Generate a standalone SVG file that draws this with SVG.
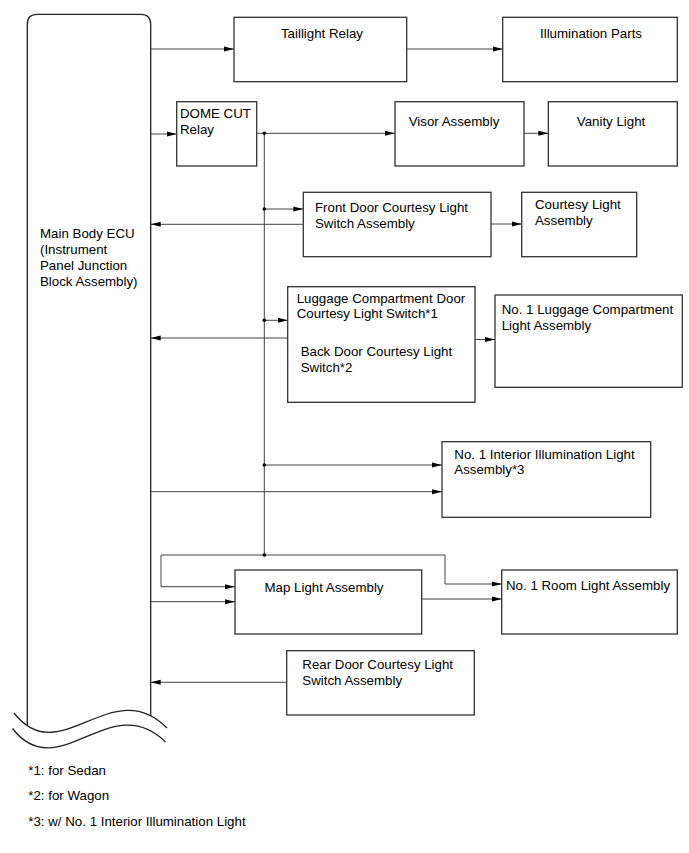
<svg xmlns="http://www.w3.org/2000/svg" width="689" height="853" viewBox="0 0 689 853">
<defs>
<marker id="ah" markerUnits="userSpaceOnUse" markerWidth="11" markerHeight="7" refX="10" refY="3.5" orient="auto">
<path d="M0,1 L10,3.5 L0,6 Z" fill="#000"/>
</marker>
<style>
.box{fill:#fff;stroke:#333;stroke-width:1.3}
.t{font-family:"Liberation Sans",Arial,sans-serif;font-size:13.3px;fill:#000}
.m{text-anchor:middle}
.c{fill:none;stroke:#444;stroke-width:1}
.a{marker-end:url(#ah)}
.dot{fill:#000}
.ecu{fill:none;stroke:#222;stroke-width:1.3}
</style>
</defs>
<rect width="689" height="853" fill="#fff"/>

<g id="ecu">
<path class="ecu" d="M27.3,725 V24.3 Q27.3,14.3 37.3,14.3 H140.7 Q150.7,14.3 150.7,24.3 V716"/>
<path class="ecu" d="M14,713 C60,772 112,672 167,728" stroke-width="1.1"/>
<path class="ecu" d="M12.5,728.5 C58.5,787.5 110.5,687.5 165.5,742" stroke-width="1.1"/>
<text class="t" x="40" y="238">Main Body ECU</text>
<text class="t" x="40" y="254">(Instrument</text>
<text class="t" x="40" y="270">Panel Junction</text>
<text class="t" x="40" y="286">Block Assembly)</text>
</g>

<g id="taillight-relay">
<rect class="box" x="234" y="17.3" width="172.7" height="64.4"/>
<text class="t m" x="322" y="38">Taillight Relay</text>
</g>
<g id="illumination-parts">
<rect class="box" x="502.7" y="17.3" width="174.6" height="64.4"/>
<text class="t m" x="591" y="38">Illumination Parts</text>
</g>
<g id="dome-cut-relay">
<rect class="box" x="176.7" y="101.7" width="80" height="64.3"/>
<text class="t" x="180" y="118">DOME CUT</text>
<text class="t" x="180" y="133.5">Relay</text>
</g>
<g id="visor-assembly">
<rect class="box" x="395" y="101.7" width="129" height="64.3"/>
<text class="t m" x="454" y="125.7">Visor Assembly</text>
</g>
<g id="vanity-light">
<rect class="box" x="548.3" y="101.7" width="129" height="64.3"/>
<text class="t m" x="611" y="125.7">Vanity Light</text>
</g>
<g id="front-door-switch">
<rect class="box" x="303.3" y="192.3" width="187.7" height="64.4"/>
<text class="t" x="315" y="212">Front Door Courtesy Light</text>
<text class="t" x="315" y="228">Switch Assembly</text>
</g>
<g id="courtesy-light">
<rect class="box" x="521.7" y="192.3" width="115" height="64.4"/>
<text class="t" x="535" y="209">Courtesy Light</text>
<text class="t" x="535" y="225">Assembly</text>
</g>
<g id="luggage-switch">
<rect class="box" x="287.7" y="286.7" width="187.3" height="115.6"/>
<text class="t" x="296.7" y="302.7">Luggage Compartment Door</text>
<text class="t" x="296.7" y="318.3">Courtesy Light Switch*1</text>
<text class="t" x="300.7" y="356">Back Door Courtesy Light</text>
<text class="t" x="300.7" y="371.7">Switch*2</text>
</g>
<g id="luggage-light">
<rect class="box" x="495" y="295" width="187.3" height="92.3"/>
<text class="t" x="501.7" y="314.3">No. 1 Luggage Compartment</text>
<text class="t" x="501.7" y="330">Light Assembly</text>
</g>
<g id="interior-light">
<rect class="box" x="442" y="441.7" width="208.7" height="75.6"/>
<text class="t" x="454.3" y="459">No. 1 Interior Illumination Light</text>
<text class="t" x="454.3" y="473.5">Assembly*3</text>
</g>
<g id="map-light">
<rect class="box" x="235" y="570" width="186.7" height="64"/>
<text class="t m" x="324" y="592">Map Light Assembly</text>
</g>
<g id="room-light">
<rect class="box" x="501.7" y="570" width="175.6" height="64"/>
<text class="t" x="506" y="590">No. 1 Room Light Assembly</text>
</g>
<g id="rear-door-switch">
<rect class="box" x="286.7" y="650.7" width="187.6" height="64.3"/>
<text class="t" x="302.3" y="669.3">Rear Door Courtesy Light</text>
<text class="t" x="302.3" y="685">Switch Assembly</text>
</g>

<g id="connectors">
<path class="c a" d="M150.7,49 H234"/>
<path class="c a" d="M406.7,49 H502.7"/>
<path class="c a" d="M150.7,134 H176.7"/>
<path class="c a" d="M256.7,133.3 H395"/>
<path class="c a" d="M524,133.3 H548.3"/>
<path class="c" d="M264.3,133.3 V555"/>
<path class="c a" d="M264.3,209 H303.3"/>
<path class="c a" d="M303.3,224.3 H150.7"/>
<path class="c a" d="M491,224 H521.7"/>
<path class="c a" d="M264.3,320.3 H287.7"/>
<path class="c a" d="M287.7,338 H150.7"/>
<path class="c a" d="M475,339.5 H495"/>
<path class="c a" d="M264.3,465 H442"/>
<path class="c a" d="M150.7,491.7 H442"/>
<path class="c a" d="M264.3,555 H161 V586.7 H235"/>
<path class="c a" d="M264.3,555 H445 V584 H501.7"/>
<path class="c a" d="M150.7,601.7 H235"/>
<path class="c a" d="M421.7,599 H501.7"/>
<path class="c a" d="M286.7,682.3 H150.7"/>
<circle class="dot" cx="264.3" cy="133.3" r="1.8"/>
<circle class="dot" cx="264.3" cy="209" r="1.8"/>
<circle class="dot" cx="264.3" cy="320.3" r="1.8"/>
<circle class="dot" cx="264.3" cy="465" r="1.8"/>
<circle class="dot" cx="264.3" cy="555" r="1.8"/>
</g>

<g id="notes">
<text class="t" x="28.3" y="775">*1: for Sedan</text>
<text class="t" x="28.3" y="800">*2: for Wagon</text>
<text class="t" x="28.3" y="825.7">*3: w/ No. 1 Interior Illumination Light</text>
</g>
</svg>
